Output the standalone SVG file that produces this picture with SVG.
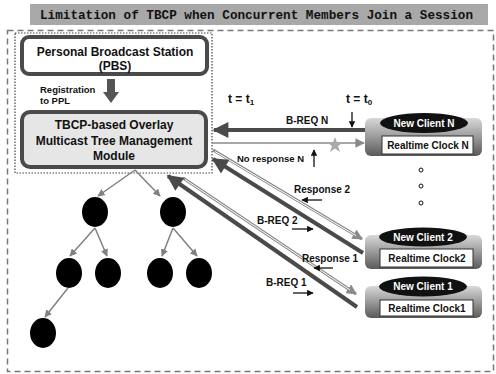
<svg xmlns="http://www.w3.org/2000/svg" width="496" height="374" viewBox="0 0 496 374">
<style>
.t{font-family:"Liberation Sans",Arial,sans-serif;font-weight:bold;fill:#111}
.box{stroke:#4a4a4a;stroke-width:4}
.thick{stroke:#4a4a4a;stroke-width:4;fill:none}
.thin{stroke:#8a8a8a;stroke-width:1.6;fill:none}
.hol{stroke:#8a8a8a;stroke-width:3;fill:none}
.holin{stroke:#fff;stroke-width:1;fill:none}
.tree{stroke:#808080;stroke-width:1.5;fill:none}
.node{fill:#000}
.sm{stroke:#111;stroke-width:1.3;fill:none}
.cl{font-family:"Liberation Sans",Arial,sans-serif;font-weight:bold;font-size:10px}
</style>
<defs>
<marker id="ah" viewBox="0 0 10 10" refX="9" refY="5" markerWidth="5" markerHeight="4" orient="auto" markerUnits="strokeWidth"><path d="M0,0 L10,5 L0,10 z" fill="#4a4a4a"/></marker>
<marker id="ag" viewBox="0 0 10 10" refX="9" refY="5" markerWidth="6" markerHeight="6" orient="auto" markerUnits="strokeWidth"><path d="M0,0 L10,5 L0,10 z" fill="#8a8a8a"/></marker>
<marker id="ag2" viewBox="0 0 10 10" refX="9" refY="5" markerWidth="3.5" markerHeight="3.5" orient="auto" markerUnits="strokeWidth"><path d="M0,0 L10,5 L0,10 z" fill="#8a8a8a"/></marker>
<marker id="at" viewBox="0 0 10 10" refX="9" refY="5" markerWidth="5" markerHeight="5" orient="auto" markerUnits="strokeWidth"><path d="M0,0 L10,5 L0,10 z" fill="#808080"/></marker>
<marker id="ab" viewBox="0 0 10 10" refX="9" refY="5" markerWidth="5.5" markerHeight="5" orient="auto" markerUnits="strokeWidth"><path d="M0,0 L10,5 L0,10 z" fill="#111"/></marker>
<linearGradient id="cg" x1="0" y1="0" x2="0" y2="1"><stop offset="0" stop-color="#d8d8d8"/><stop offset="0.5" stop-color="#9a9a9a"/><stop offset="1" stop-color="#5a5a5a"/></linearGradient>
</defs>
<rect width="496" height="374" fill="#fff"/>
<g id="title">
<rect x="30" y="4" width="458" height="21" fill="#a8a8a8"/>
<text x="40" y="19" font-family="Liberation Mono,monospace" font-weight="bold" font-size="13" textLength="433" lengthAdjust="spacingAndGlyphs" fill="#111">Limitation of TBCP when Concurrent Members Join a Session</text>
</g>
<rect x="7.5" y="30.5" width="486" height="341" fill="none" stroke="#777" stroke-width="1.5" stroke-dasharray="6,4"/>
<rect x="15" y="33" width="197" height="140" fill="none" stroke="#444" stroke-width="1.2" stroke-dasharray="1.5,1.5"/>
<g id="pbs">
<rect class="box" x="22" y="37" width="185" height="37" rx="7" fill="#fff"/>
<text class="t" x="115" y="56" font-size="12" text-anchor="middle">Personal Broadcast Station</text>
<text class="t" x="115" y="70" font-size="12" text-anchor="middle">(PBS)</text>
</g>
<g id="registration">
<path d="M107,79 H115 V92 H119 L111,103 L103,92 H107 Z" fill="#555"/>
<text class="t" x="40" y="93" font-size="9.5">Registration</text>
<text class="t" x="40" y="104" font-size="9.5">to PPL</text>
</g>
<g id="tbcp">
<rect class="box" x="22" y="112" width="184" height="55" rx="8" fill="#e6e6e6"/>
<text class="t" x="114" y="129" font-size="12" text-anchor="middle">TBCP-based Overlay</text>
<text class="t" x="114" y="145" font-size="12" text-anchor="middle">Multicast Tree Management</text>
<text class="t" x="114" y="160" font-size="12" text-anchor="middle">Module</text>
</g>
<g id="tree-nodes">
<ellipse id="n1" class="node" cx="95" cy="212" rx="13" ry="15"/>
<ellipse id="n2" class="node" cx="173" cy="212" rx="13" ry="15"/>
<ellipse id="n3" class="node" cx="69" cy="273" rx="13" ry="15"/>
<ellipse id="n4" class="node" cx="108" cy="273" rx="13" ry="15"/>
<ellipse id="n5" class="node" cx="160" cy="273" rx="13" ry="15"/>
<ellipse id="n6" class="node" cx="199" cy="273" rx="13" ry="15"/>
<ellipse id="n7" class="node" cx="43" cy="333" rx="13" ry="15"/>
</g>
<g id="clientN">
<rect x="365" y="118" width="117" height="38" rx="6" fill="url(#cg)"/>
<ellipse cx="424" cy="123" rx="44" ry="10" fill="#111"/>
<text class="cl" x="424" y="127" fill="#fff" text-anchor="middle">New Client N</text>
<rect x="382" y="136" width="91" height="18" fill="#fff" stroke="#333" stroke-width="1"/>
<text class="cl" x="428" y="149" fill="#111" text-anchor="middle">Realtime Clock N</text>
</g>
<g id="client2">
<rect x="365" y="235" width="117" height="34" rx="6" fill="url(#cg)"/>
<ellipse cx="423" cy="237" rx="44" ry="9.5" fill="#111"/>
<text class="cl" x="423" y="241" fill="#fff" text-anchor="middle">New Client 2</text>
<rect x="380" y="249" width="93" height="18" fill="#fff" stroke="#333" stroke-width="1"/>
<text class="cl" x="427" y="262" fill="#111" text-anchor="middle">Realtime Clock2</text>
</g>
<g id="client1">
<rect x="365" y="286" width="117" height="32" rx="6" fill="url(#cg)"/>
<ellipse cx="423" cy="286.5" rx="44" ry="10" fill="#111"/>
<text class="cl" x="423" y="290" fill="#fff" text-anchor="middle">New Client 1</text>
<rect x="380" y="300" width="93" height="16" fill="#fff" stroke="#333" stroke-width="1"/>
<text class="cl" x="427" y="312" fill="#111" text-anchor="middle">Realtime Clock1</text>
</g>
<g id="dots" fill="#fff" stroke="#111" stroke-width="1">
<circle cx="421" cy="170" r="2"/>
<circle cx="421" cy="186" r="2"/>
<circle cx="421" cy="203" r="2"/>
</g>
<g id="connectors">
<path class="tree" d="M135,170 L98,196" marker-end="url(#at)"/>
<path class="tree" d="M135,170 L160,196" marker-end="url(#at)"/>
<path class="tree" d="M95,228 L70,256" marker-end="url(#at)"/>
<path class="tree" d="M95,228 L107,256" marker-end="url(#at)"/>
<path class="tree" d="M173,228 L162,256" marker-end="url(#at)"/>
<path class="tree" d="M173,228 L197,256" marker-end="url(#at)"/>
<path class="tree" d="M68,288 L45,317" marker-end="url(#at)"/>
<path class="thick" d="M365,130 L214,130" marker-end="url(#ah)"/>
<path class="thin" d="M212,143 L364,143" marker-end="url(#ag)"/>
<path class="hol" d="M213,150 L362,239" marker-end="url(#ag2)"/>
<path class="holin" d="M215,151.5 L356,235.6"/>
<path class="thick" d="M363,253 L213,159" marker-end="url(#ah)"/>
<path class="hol" d="M183,178 L356,294" marker-end="url(#ag2)"/>
<path class="holin" d="M185,179.5 L350,290"/>
<path class="thick" d="M357,307 L168,176" marker-end="url(#ah)"/>
<polygon points="335,137 337,142.5 343,142.5 338,146 340,152 335,148.5 330,152 332,146 327,142.5 333,142.5" fill="#aaa"/>
</g>
<g id="labels">
<text class="t" x="228" y="103" font-size="12">t = t<tspan font-size="8" dy="2">1</tspan></text>
<text class="t" x="346" y="103" font-size="12">t = t<tspan font-size="8" dy="2">0</tspan></text>
<path class="sm" d="M352,112 L352,127" marker-end="url(#ab)"/>
<text class="t" x="286" y="124" font-size="10">B-REQ N</text>
<text class="t" x="237" y="162" font-size="9.5">No response N</text>
<path class="sm" d="M314,167 L314,150" marker-end="url(#ab)"/>
<text class="t" x="294" y="193" font-size="10">Response 2</text>
<path class="sm" d="M322,200 L302,200" marker-end="url(#ab)"/>
<text class="t" x="257" y="224" font-size="10">B-REQ 2</text>
<path class="sm" d="M292,229 L313,229" marker-end="url(#ab)"/>
<text class="t" x="302" y="262" font-size="10">Response 1</text>
<path class="sm" d="M333,268 L314,268" marker-end="url(#ab)"/>
<text class="t" x="266" y="286" font-size="10">B-REQ 1</text>
<path class="sm" d="M293,293 L313,293" marker-end="url(#ab)"/>
</g>
</svg>
